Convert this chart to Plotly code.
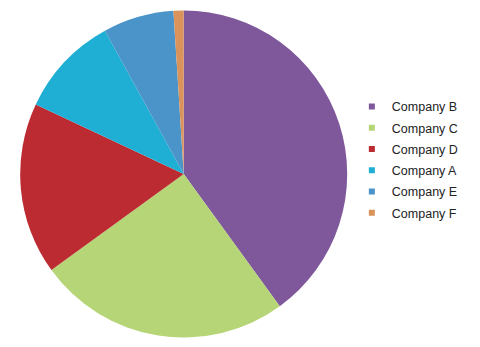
import plotly.graph_objects as go

companies = ["Company B", "Company C", "Company D", "Company A", "Company E", "Company F"]
shares = [40, 25, 17, 10, 7, 1]
colors = ["#7F579B", "#B5D577", "#BC2B32", "#1FAFD5", "#4A94C9", "#D9935B"]

W, H = 480, 347
fig = go.Figure()
fig.add_trace(go.Pie(
    labels=companies, values=shares, sort=False, direction="clockwise", rotation=0,
    marker=dict(colors=colors, line=dict(width=0)),
    textinfo="none", hoverinfo="label+percent", showlegend=False,
    domain=dict(x=[20.2 / W, 347.2 / W], y=[(H - 337.5) / H, (H - 10.5) / H]),
))
for name, col in zip(companies, colors):
    fig.add_trace(go.Scatter(
        x=[None], y=[None], mode="markers", name=name, legendgroup=name,
        marker=dict(symbol="square", size=6, color=col),
    ))

fig.update_layout(
    width=W, height=H, margin=dict(l=0, r=0, t=0, b=0),
    paper_bgcolor="white", plot_bgcolor="white",
    xaxis=dict(visible=False), yaxis=dict(visible=False),
    font=dict(family="Liberation Sans, Arial, sans-serif", size=12, color="#222222"),
    legend=dict(x=0.733, xanchor="left", y=0.539, yanchor="middle",
                tracegroupgap=2, itemsizing="trace", font=dict(size=12.5)),
)
fig.write_html("out.html")
